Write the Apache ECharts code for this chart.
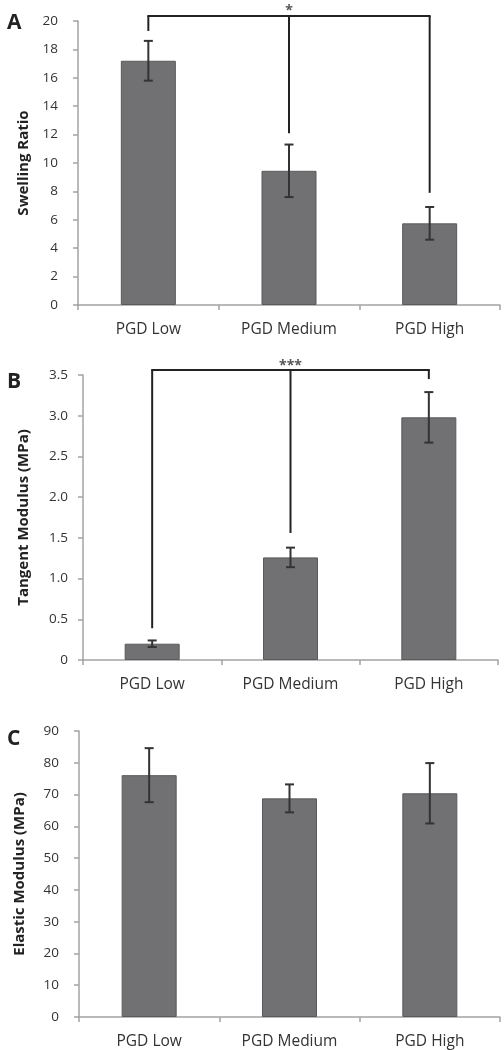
<!DOCTYPE html>
<html>
<head>
<meta charset="utf-8">
<script src="https://cdn.jsdelivr.net/npm/echarts@6/dist/echarts.min.js"></script>
<style>
html,body{margin:0;padding:0;background:#fff;}
#chart{width:504px;height:1050px;}
</style>
</head>
<body>
<div id="chart"></div>
<script>
var categories = ['PGD Low', 'PGD Medium', 'PGD High'];

var swelling = [17.2, 9.45, 5.75];
var swellingErr = [1.4, 1.85, 1.15];
var swellingTicks = [0, 20, 2];

var tangent = [0.2, 1.26, 2.98];
var tangentErr = [0.04, 0.12, 0.31];
var tangentTicks = [0, 3.5, 0.5];

var elastic = [76.1, 68.8, 70.4];
var elasticErr = [8.5, 4.4, 9.5];
var elasticTicks = [0, 90, 10];

var bracketATop = 20.35;
var bracketALegs = [19.3, 12.1, 7.9];
var bracketALabel = '*';

var bracketBTop = 3.56;
var bracketBLegs = [0.39, 1.56, 3.45];
var bracketBLabel = '***';

var panelLetters = ['A', 'B', 'C'];
var axisNames = ['Swelling Ratio', 'Tangent Modulus (MPa)', 'Elastic Modulus (MPa)'];

var FONT = 'Open Sans';
var BAR = '#717174';
var AXIS = '#a3a3a3';
var TEXT = '#333';

var grids = [
  {left: 78, top: 21, width: 422, height: 284},
  {left: 83, top: 375, width: 415, height: 285},
  {left: 79, top: 731, width: 421, height: 286}
];
var titleTops = [8, 367, 724];
var labelMargins = [20, 15, 20];
var nameGaps = [46, 52, 52];

function xAxis(i) {
  return {
    type: 'category', gridIndex: i, data: categories,
    axisLine: {lineStyle: {color: AXIS, width: 1.5}},
    axisTick: {show: true, length: 5, lineStyle: {color: AXIS, width: 1.5}},
    axisLabel: {color: TEXT, fontFamily: FONT, fontSize: 15.5, margin: 17}
  };
}
function yAxis(i, ticks, fmt) {
  return {
    type: 'value', gridIndex: i, min: ticks[0], max: ticks[1], interval: ticks[2],
    name: axisNames[i], nameLocation: 'middle', nameGap: nameGaps[i],
    nameTextStyle: {color: '#222', fontFamily: FONT, fontSize: 15, fontWeight: 'bold'},
    axisLine: {show: true, lineStyle: {color: AXIS, width: 1.5}},
    axisTick: {show: true, length: 5, lineStyle: {color: AXIS, width: 1.5}},
    splitLine: {show: false},
    axisLabel: {color: TEXT, fontFamily: FONT, fontSize: 13.5, margin: labelMargins[i], formatter: fmt}
  };
}

function barSeries(i, vals) {
  return {
    type: 'bar', xAxisIndex: i, yAxisIndex: i, data: vals, barWidth: 55,
    itemStyle: {color: BAR, borderColor: '#5a5a5c', borderWidth: 1},
    silent: true
  };
}

function errSeries(i, vals, errs) {
  return {
    type: 'custom', xAxisIndex: i, yAxisIndex: i, silent: true, z: 5,
    data: vals.map(function (v, k) { return [k, v - errs[k], v + errs[k]]; }),
    renderItem: function (params, api) {
      var lo = api.coord([api.value(0), api.value(1)]);
      var hi = api.coord([api.value(0), api.value(2)]);
      var w = 4.5;
      var st = {stroke: '#333', lineWidth: 2};
      return {type: 'group', children: [
        {type: 'line', shape: {x1: lo[0], y1: lo[1], x2: hi[0], y2: hi[1]}, style: st},
        {type: 'line', shape: {x1: lo[0] - w, y1: lo[1], x2: lo[0] + w, y2: lo[1]}, style: st},
        {type: 'line', shape: {x1: hi[0] - w, y1: hi[1], x2: hi[0] + w, y2: hi[1]}, style: st}
      ]};
    }
  };
}

function bracketSeries(i, top, legs, label, lift) {
  return {
    type: 'custom', xAxisIndex: i, yAxisIndex: i, silent: true, z: 6, clip: false,
    data: legs.map(function (b, k) { return [k, b]; }),
    renderItem: function (params, api) {
      var k = api.value(0);
      var bot = api.coord([k, api.value(1)]);
      var tp = api.coord([k, top]);
      var st = {stroke: '#222', lineWidth: 2};
      var ch = [{type: 'line', shape: {x1: bot[0], y1: bot[1], x2: tp[0], y2: tp[1]}, style: st}];
      if (k === 0) {
        var end = api.coord([legs.length - 1, top]);
        ch.push({type: 'line', shape: {x1: tp[0] - 1, y1: tp[1], x2: end[0] + 1, y2: end[1]}, style: st});
      }
      if (k === 1) {
        ch.push({type: 'text', style: {text: label, x: tp[0], y: tp[1] - lift, align: 'center', verticalAlign: 'middle',
          fill: '#555', font: 'bold 14px ' + FONT}});
      }
      return {type: 'group', children: ch};
    }
  };
}

var chart = echarts.init(document.getElementById('chart'), null, {renderer: 'canvas'});
chart.setOption({
  animation: false,
  backgroundColor: '#fff',
  title: panelLetters.map(function (t, i) {
    return {text: t, left: 2, top: titleTops[i], textStyle: {fontFamily: FONT, fontSize: 21, fontWeight: 'bold', color: '#222'}};
  }),
  grid: grids,
  xAxis: [xAxis(0), xAxis(1), xAxis(2)],
  yAxis: [
    yAxis(0, swellingTicks),
    yAxis(1, tangentTicks, function (v) { return v === 0 ? '0' : v.toFixed(1); }),
    yAxis(2, elasticTicks)
  ],
  series: [
    barSeries(0, swelling), errSeries(0, swelling, swellingErr), bracketSeries(0, bracketATop, bracketALegs, bracketALabel, 5.5),
    barSeries(1, tangent), errSeries(1, tangent, tangentErr), bracketSeries(1, bracketBTop, bracketBLegs, bracketBLabel, 4.5),
    barSeries(2, elastic), errSeries(2, elastic, elasticErr)
  ]
});
</script>
</body>
</html>
